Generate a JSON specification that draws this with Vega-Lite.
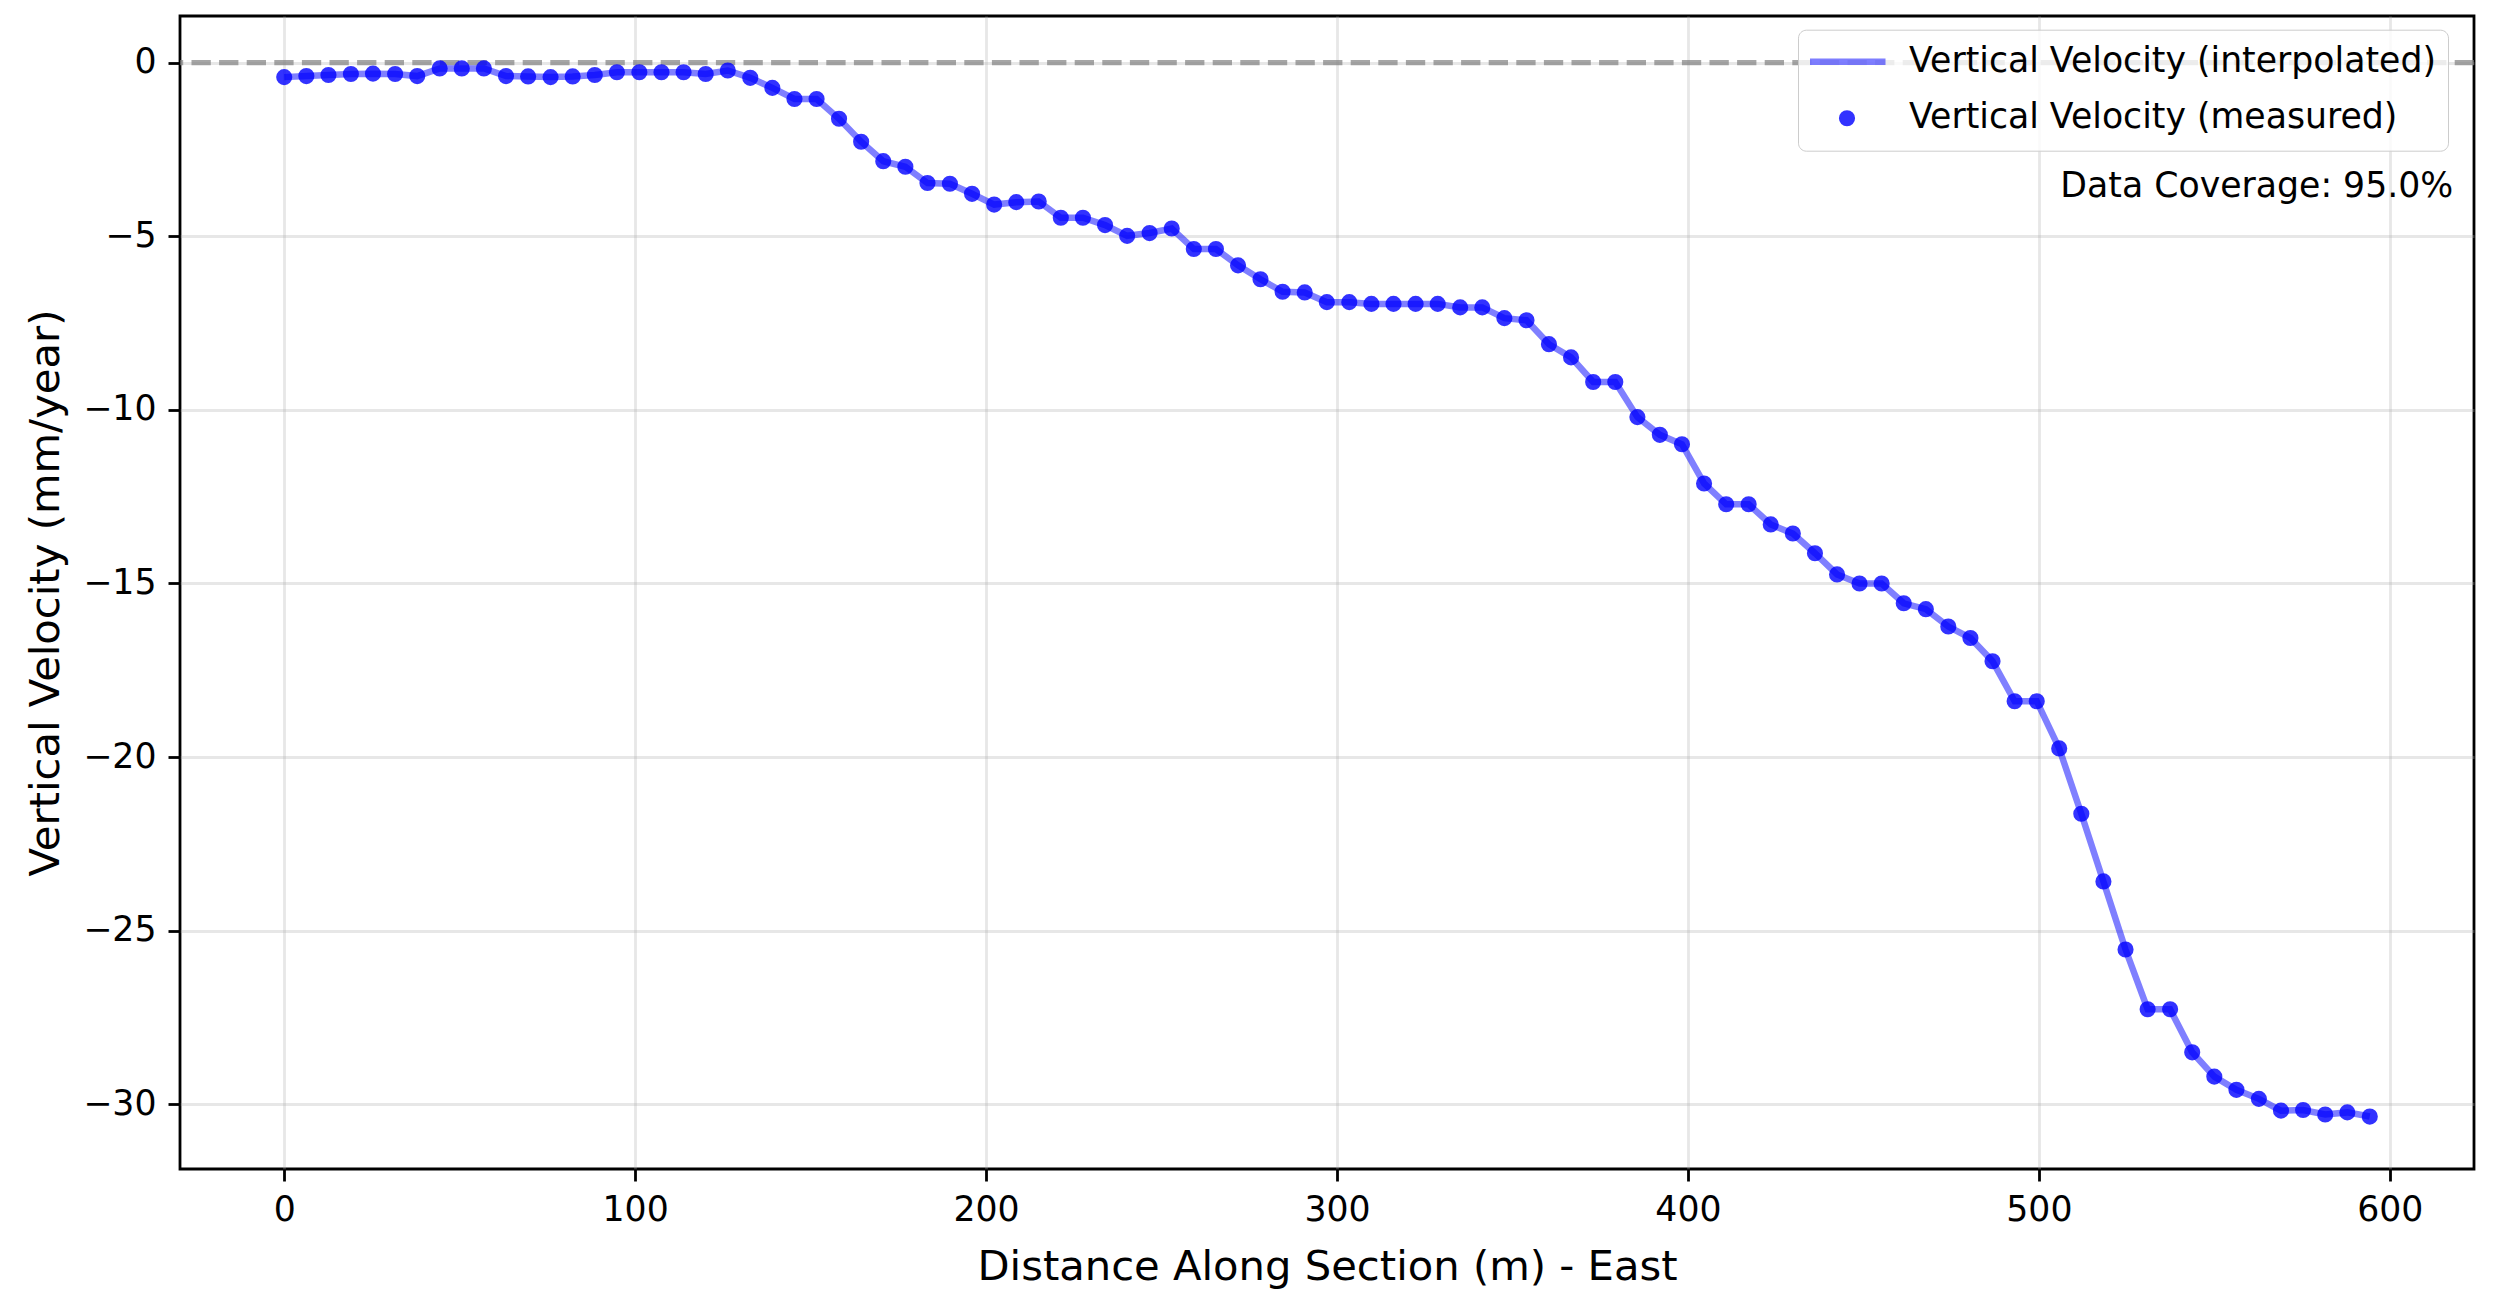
{
  "$schema": "https://vega.github.io/schema/vega-lite/v6.json",
  "width": 2294,
  "height": 1153,
  "autosize": {"type": "none"},
  "padding": {"left": 180, "top": 16, "right": 26, "bottom": 141},
  "background": "white",
  "config": {
    "font": "DejaVu Sans",
    "view": {"stroke": "black", "strokeWidth": 2.8},
    "axis": {
      "labelFont": "DejaVu Sans",
      "labelFontSize": 34.7,
      "labelColor": "black",
      "tickColor": "black",
      "tickSize": 12,
      "tickWidth": 2.8,
      "labelPadding": 12,
      "domain": false,
      "gridColor": "#b0b0b0",
      "gridOpacity": 0.3,
      "gridWidth": 2.8,
      "titleFont": "DejaVu Sans",
      "titleFontSize": 41.7,
      "titleFontWeight": "normal",
      "titleColor": "black"
    },
    "legend": {
      "labelFont": "DejaVu Sans",
      "labelFontSize": 34.7,
      "labelColor": "black"
    }
  },
  "datasets": {
    "profile": [
      {"d": 0.0, "v": -0.42}, {"d": 6.3, "v": -0.39}, {"d": 12.6, "v": -0.36}, {"d": 19.0, "v": -0.33},
      {"d": 25.3, "v": -0.32}, {"d": 31.6, "v": -0.33}, {"d": 37.9, "v": -0.39}, {"d": 44.3, "v": -0.17},
      {"d": 50.6, "v": -0.17}, {"d": 56.9, "v": -0.17}, {"d": 63.2, "v": -0.39}, {"d": 69.5, "v": -0.40},
      {"d": 75.9, "v": -0.42}, {"d": 82.2, "v": -0.40}, {"d": 88.5, "v": -0.36}, {"d": 94.8, "v": -0.28},
      {"d": 101.2, "v": -0.28}, {"d": 107.5, "v": -0.28}, {"d": 113.8, "v": -0.28}, {"d": 120.1, "v": -0.33},
      {"d": 126.4, "v": -0.23}, {"d": 132.8, "v": -0.44}, {"d": 139.1, "v": -0.73}, {"d": 145.4, "v": -1.05},
      {"d": 151.7, "v": -1.05}, {"d": 158.1, "v": -1.62}, {"d": 164.4, "v": -2.28}, {"d": 170.7, "v": -2.84},
      {"d": 177.0, "v": -3.0}, {"d": 183.3, "v": -3.47}, {"d": 189.7, "v": -3.49}, {"d": 196.0, "v": -3.78},
      {"d": 202.3, "v": -4.09}, {"d": 208.6, "v": -4.02}, {"d": 215.0, "v": -4.0}, {"d": 221.3, "v": -4.47},
      {"d": 227.6, "v": -4.47}, {"d": 233.9, "v": -4.68}, {"d": 240.2, "v": -4.99}, {"d": 246.6, "v": -4.91},
      {"d": 252.9, "v": -4.78}, {"d": 259.2, "v": -5.37}, {"d": 265.5, "v": -5.37}, {"d": 271.8, "v": -5.84},
      {"d": 278.2, "v": -6.24}, {"d": 284.5, "v": -6.6}, {"d": 290.8, "v": -6.62}, {"d": 297.1, "v": -6.9},
      {"d": 303.5, "v": -6.9}, {"d": 309.8, "v": -6.95}, {"d": 316.1, "v": -6.95}, {"d": 322.4, "v": -6.95},
      {"d": 328.7, "v": -6.95}, {"d": 335.1, "v": -7.05}, {"d": 341.4, "v": -7.05}, {"d": 347.7, "v": -7.36},
      {"d": 354.0, "v": -7.42}, {"d": 360.4, "v": -8.11}, {"d": 366.7, "v": -8.49}, {"d": 373.0, "v": -9.2},
      {"d": 379.3, "v": -9.2}, {"d": 385.6, "v": -10.21}, {"d": 392.0, "v": -10.72}, {"d": 398.3, "v": -10.99},
      {"d": 404.6, "v": -12.12}, {"d": 410.9, "v": -12.72}, {"d": 417.3, "v": -12.72}, {"d": 423.6, "v": -13.3},
      {"d": 429.9, "v": -13.56}, {"d": 436.2, "v": -14.13}, {"d": 442.5, "v": -14.74}, {"d": 448.9, "v": -15.0},
      {"d": 455.2, "v": -15.0}, {"d": 461.5, "v": -15.57}, {"d": 467.8, "v": -15.74}, {"d": 474.2, "v": -16.24},
      {"d": 480.5, "v": -16.57}, {"d": 486.8, "v": -17.24}, {"d": 493.1, "v": -18.39}, {"d": 499.4, "v": -18.39},
      {"d": 505.8, "v": -19.75}, {"d": 512.1, "v": -21.63}, {"d": 518.4, "v": -23.58}, {"d": 524.7, "v": -25.54},
      {"d": 531.0, "v": -27.26}, {"d": 537.4, "v": -27.26}, {"d": 543.7, "v": -28.5}, {"d": 550.0, "v": -29.2},
      {"d": 556.3, "v": -29.58}, {"d": 562.7, "v": -29.84}, {"d": 569.0, "v": -30.18}, {"d": 575.3, "v": -30.16},
      {"d": 581.6, "v": -30.29}, {"d": 587.9, "v": -30.23}, {"d": 594.3, "v": -30.35}
    ],
    "baseline": [
      {"v": 0}
    ],
    "note": [
      {"d": 618.1, "v": -3.58, "label": "Data Coverage: 95.0%"}
    ]
  },
  "layer": [
    {
      "data": {"name": "baseline"},
      "mark": {"type": "rule", "color": "gray", "opacity": 0.7, "strokeWidth": 5.2, "strokeDash": [19.3, 8.3]},
      "encoding": {
        "y": {
          "field": "v",
          "type": "quantitative",
          "title": "Vertical Velocity (mm/year)",
          "scale": {"domain": [-31.86, 1.34], "nice": false, "zero": false},
          "axis": {"values": [0, -5, -10, -15, -20, -25, -30], "titlePadding": 15}
        }
      }
    },
    {
      "data": {"name": "profile"},
      "mark": {"type": "line", "color": "blue", "strokeWidth": 6.5, "opacity": 0.5},
      "encoding": {
        "x": {
          "field": "d",
          "type": "quantitative",
          "title": "Distance Along Section (m) - East",
          "scale": {"domain": [-29.7, 624.0], "nice": false, "zero": false},
          "axis": {"values": [0, 100, 200, 300, 400, 500, 600], "titlePadding": 20}
        },
        "y": {"field": "v", "type": "quantitative"}
      }
    },
    {
      "data": {"name": "profile"},
      "mark": {"type": "point", "filled": true, "stroke": "blue"},
      "encoding": {
        "x": {"field": "d", "type": "quantitative"},
        "y": {"field": "v", "type": "quantitative"},
        "color": {
          "datum": "Vertical Velocity (measured)",
          "type": "nominal",
          "scale": {
            "domain": ["Vertical Velocity (interpolated)", "Vertical Velocity (measured)"],
            "range": ["blue", "blue"]
          },
          "legend": {
            "title": null,
            "orient": "none",
            "legendX": 1618,
            "legendY": 13.7,
            "padding": 12,
            "fillColor": "rgba(255,255,255,0.8)",
            "strokeColor": "#cccccc",
            "cornerRadius": 8,
            "symbolStrokeColor": "blue",
            "symbolOffset": -5,
            "labelOffset": 20,
            "clipHeight": 40,
            "rowPadding": 16.6,
            "labelLimit": 800,
            "encode": {
              "legend": {"strokeWidth": {"value": 3}}
            }
          }
        },
        "shape": {
          "datum": "Vertical Velocity (measured)",
          "type": "nominal",
          "scale": {
            "domain": ["Vertical Velocity (interpolated)", "Vertical Velocity (measured)"],
            "range": ["stroke", "circle"]
          },
          "legend": {"title": null}
        },
        "size": {
          "datum": "Vertical Velocity (measured)",
          "type": "nominal",
          "scale": {
            "type": "ordinal",
            "domain": ["Vertical Velocity (interpolated)", "Vertical Velocity (measured)"],
            "range": [5929, 200]
          },
          "legend": {"title": null}
        },
        "strokeWidth": {
          "datum": "Vertical Velocity (measured)",
          "type": "nominal",
          "scale": {
            "type": "ordinal",
            "domain": ["Vertical Velocity (interpolated)", "Vertical Velocity (measured)"],
            "range": [6.5, 2]
          },
          "legend": {"title": null}
        },
        "opacity": {
          "datum": "Vertical Velocity (measured)",
          "type": "nominal",
          "scale": {
            "type": "ordinal",
            "domain": ["Vertical Velocity (interpolated)", "Vertical Velocity (measured)"],
            "range": [0.5, 0.8]
          },
          "legend": {"title": null}
        }
      }
    },
    {
      "data": {"name": "note"},
      "mark": {"type": "text", "align": "right", "baseline": "middle", "font": "DejaVu Sans", "fontSize": 34.7, "color": "black"},
      "encoding": {
        "x": {"field": "d", "type": "quantitative"},
        "y": {"field": "v", "type": "quantitative"},
        "text": {"field": "label"}
      }
    }
  ]
}
